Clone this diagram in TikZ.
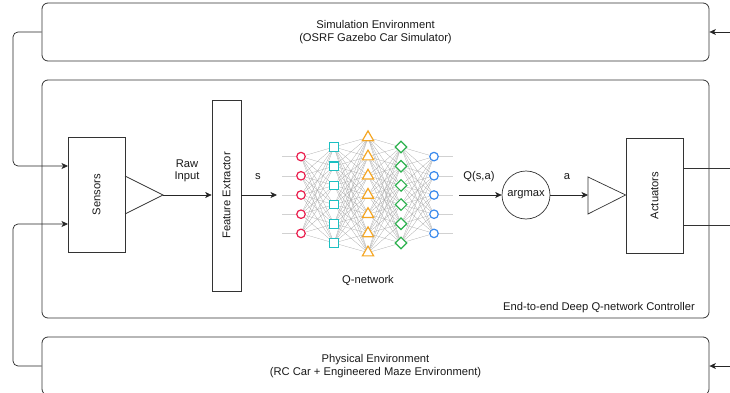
\documentclass[tikz,border=0pt]{standalone}
\usepackage{fontspec}
\setmainfont{Liberation Sans}
\usetikzlibrary{arrows.meta,shapes.geometric}
\definecolor{nnred}{HTML}{EA1F4E}
\definecolor{nncyan}{HTML}{1CC0C2}
\definecolor{nnorange}{HTML}{F5A623}
\definecolor{nngreen}{HTML}{2DB24F}
\definecolor{nnblue}{HTML}{3A8AED}
\begin{document}
\begin{tikzpicture}[x=1pt,y=-1pt,
  every node/.style={font=\fontsize{11.2}{12.5}\selectfont, text=black!90},
  env/.style={draw=black!80, line width=0.8pt, rounded corners=6pt, inner sep=0, align=center},
  blk/.style={draw=black!80, line width=0.7pt, inner sep=0},
  arr/.style={-{Stealth[length=6.5pt,width=6pt,inset=1.8pt]}, line width=0.7pt, draw=black!85},
  ln/.style={line width=0.7pt, draw=black!80},
  nnedge/.style={draw=black!35, line width=0.25pt},
  nnin/.style={draw=black!18, line width=0.6pt},
  ncirc/.style={circle, draw=#1, fill=white, line width=1.2pt, minimum size=8.5pt, inner sep=0},
  nsq/.style={rectangle, draw=#1, fill=white, line width=1.1pt, minimum size=8.5pt, inner sep=0},
  ntri/.style={regular polygon, regular polygon sides=3, draw=#1, fill=white, line width=1.2pt, minimum size=13pt, inner sep=0},
  ndia/.style={diamond, draw=#1, fill=white, line width=1.2pt, minimum width=12pt, minimum height=12pt, inner sep=0},
]
\useasboundingbox (0,0) rectangle (730,393);
\clip (0,0) rectangle (730,393);

% environments
\node[env, minimum width=667pt, minimum height=58pt] (sim) at (375.5,32) {Simulation Environment\\(OSRF Gazebo Car Simulator)};
\node[env, minimum width=667pt, minimum height=238pt] (ctrl) at (375.5,199) {};
\node[env, minimum width=667pt, minimum height=58pt] (phys) at (375.5,366) {Physical Environment\\(RC Car + Engineered Maze Environment)};
\node (ctrllbl) at (599,308) {End-to-end Deep Q-network Controller};

% blocks
\node[blk, minimum width=57pt, minimum height=115pt] (sensors) at (96.5,194.5) {};
\node[rotate=90] (senslbl) at (sensors.center) {Sensors};
\node[blk, minimum width=29pt, minimum height=191pt] (fe) at (226.5,195.5) {};
\node[rotate=90] (felbl) at (fe.center) {Feature Extractor};
\node[blk, circle, minimum size=48pt] (argmax) at (526,195) {argmax};
\node[blk, minimum width=57pt, minimum height=115pt] (act) at (654.5,195.5) {};
\node[rotate=90] (actlbl) at (act.center) {Actuators};

% triangles
\coordinate (st1) at (125,176);
\coordinate (st2) at (125,214);
\coordinate (stapex) at (163,195);
\draw[ln] (st1) -- (stapex) -- (st2);
\coordinate (at1) at (588,177);
\coordinate (at2) at (588,214);
\coordinate (atleft) at (588,195);
\draw[ln] (at1) -- (act.west |- 0,195) -- (at2) -- cycle;

% labels
\node[align=center] (rawlbl) at (187,171) {Raw\\Input};
\node (slbl) at (258,177) {s};
\node (qlbl) at (479,177) {Q(s,a)};
\node (albl) at (567,177) {a};
\node (qnlbl) at (368,280) {Q-network};

% main arrows
\draw[arr] (stapex) -- (fe.west |- stapex);
\coordinate (sout) at (277,195);
\draw[arr] (fe.east |- sout) -- (sout);
\coordinate (qin) at (459,195);
\draw[arr] (qin) -- (argmax.west);
\draw[arr] (argmax.east) -- (atleft);

% feedback loops
\coordinate (sin1) at (68,166);
\coordinate (sin2) at (68,224);
\coordinate (lx1) at (13,32);
\coordinate (lx2) at (13,366);
\draw[arr, rounded corners=5pt] (sim.west) -- (lx1) |- (sin1);
\draw[arr, rounded corners=5pt] (phys.west) -- (lx2) |- (sin2);
\coordinate (rout1) at (730,168);
\coordinate (rout2) at (730,225);
\draw[ln] (act.east |- rout1) -- (rout1);
\draw[ln] (act.east |- rout2) -- (rout2);
\coordinate (rin1) at (730,32);
\coordinate (rin2) at (730,366);
\draw[arr] (rin1) -- (sim.east);
\draw[arr] (rin2) -- (phys.east);

% neural network nodes
\foreach \i in {0,...,4} \node[ncirc=nnred] (a\i) at (301,{195+19.2*(\i-2)}) {};
\foreach \i in {0,...,5} \node[nsq=nncyan] (b\i) at (334,{195+19.2*(\i-2.5)}) {};
\foreach \i in {0,...,6} \node[ntri=nnorange] (c\i) at (368,{195+19.2*(\i-3)}) {};
\foreach \i in {0,...,5} \node[ndia=nngreen] (d\i) at (401,{195+19.2*(\i-2.5)}) {};
\foreach \i in {0,...,4} \node[ncirc=nnblue] (e\i) at (434,{195+19.2*(\i-2)}) {};

% network edges
\foreach \i in {0,...,4} \foreach \j in {0,...,5} \draw[nnedge] (a\i) -- (b\j);
\foreach \i in {0,...,5} \foreach \j in {0,...,6} \draw[nnedge] (b\i) -- (c\j);
\foreach \i in {0,...,6} \foreach \j in {0,...,5} \draw[nnedge] (c\i) -- (d\j);
\foreach \i in {0,...,5} \foreach \j in {0,...,4} \draw[nnedge] (d\i) -- (e\j);
\foreach \i in {0,...,4} {
  \coordinate (in\i) at (282,{195+19.2*(\i-2)});
  \coordinate (out\i) at (453,{195+19.2*(\i-2)});
  \draw[nnin] (in\i) -- (a\i);
  \draw[nnin] (e\i) -- (out\i);
}
\end{tikzpicture}
\end{document}
